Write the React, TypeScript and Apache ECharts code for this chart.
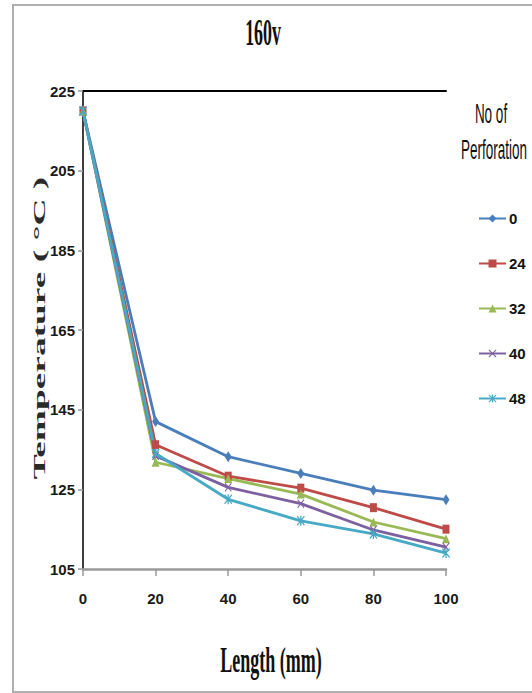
import React, { useEffect, useRef } from "react";
import * as echarts from "echarts";

const lengths = [0, 20, 40, 60, 80, 100];
const perforations = ["0", "24", "32", "40", "48"];
const temp0 = [220, 142, 133.2, 129, 124.8, 122.4];
const temp24 = [220, 136.2, 128.3, 125.3, 120.4, 115];
const temp32 = [220, 131.8, 127.7, 123.8, 116.8, 112.6];
const temp40 = [220, 133.4, 125.5, 121.4, 114.8, 110.5];
const temp48 = [220, 134, 122.5, 117.1, 113.8, 109];
const allTemps = [temp0, temp24, temp32, temp40, temp48];

const colors = ["#4A7EBB", "#BE4B48", "#98B954", "#7D60A0", "#46AAC5"];
const X_PATH =
  "path://M0,1L1,0L5,4L9,0L10,1L6,5L10,9L9,10L5,6L1,10L0,9L4,5Z";
const STAR_PATH =
  "path://M0,1L1,0L5,4L9,0L10,1L6,5L10,9L9,10L5,6L1,10L0,9L4,5Z M4.2,0L5.8,0L5.8,10L4.2,10Z";
const symbols = ["diamond", "rect", "triangle", X_PATH, STAR_PATH];
const symbolSizes = [
  [7, 11],
  [7, 9],
  [8, 9],
  [7, 9],
  [8, 10],
];

const NARROW = "'Liberation Sans Narrow', 'Liberation Sans', Arial, sans-serif";
const SERIF = "'Liberation Serif', 'Times New Roman', serif";

export default function App() {
  const ref = useRef<HTMLDivElement>(null);
  useEffect(() => {
    if (!ref.current) return;
    const chart = echarts.init(ref.current, undefined, { renderer: "svg" });
    const series = allTemps.map((vals, i) => ({
      name: perforations[i],
      type: "line",
      data: lengths.map((x, j) => [x, vals[j]]),
      symbol: symbols[i],
      symbolSize: symbolSizes[i],
      showSymbol: true,
      lineStyle: { color: colors[i], width: 2.8 },
      itemStyle: { color: colors[i] },
    }));
    chart.setOption({
      animation: false,
      backgroundColor: "#ffffff",
      grid: { left: 83, top: 91, width: 363, height: 478, containLabel: false },
      xAxis: [
        {
          type: "value",
          min: 0,
          max: 100,
          interval: 20,
          position: "bottom",
          axisLine: { show: true, lineStyle: { color: "#999999", width: 2.5 } },
          axisTick: { show: true, length: 7, lineStyle: { color: "#999999", width: 1.5 } },
          axisLabel: {
            margin: 22,
            fontFamily: NARROW,
            fontWeight: "bold",
            fontSize: 15,
            color: "#1a1a1a",
          },
          splitLine: { show: false },
        },
        {
          type: "value",
          min: 0,
          max: 100,
          position: "top",
          axisLine: { show: true, lineStyle: { color: "#000000", width: 2 } },
          axisTick: { show: false },
          axisLabel: { show: false },
          splitLine: { show: false },
        },
      ],
      yAxis: [
        {
          type: "value",
          min: 105,
          max: 225,
          interval: 20,
          position: "left",
          axisLine: { show: true, lineStyle: { color: "#999999", width: 2 } },
          axisTick: { show: true, length: 5, lineStyle: { color: "#999999", width: 1.5 } },
          axisLabel: {
            margin: 8,
            fontFamily: NARROW,
            fontWeight: "bold",
            fontSize: 15,
            color: "#1a1a1a",
          },
          splitLine: { show: false },
        },
        {
          type: "value",
          min: 105,
          max: 225,
          position: "right",
          axisLine: { show: true, lineStyle: { color: "#222222", width: 1.5 } },
          axisTick: { show: false },
          axisLabel: { show: false },
          splitLine: { show: false },
        },
      ],
      legend: {
        orient: "vertical",
        left: 473,
        top: 206,
        itemWidth: 27,
        itemHeight: 10,
        itemGap: 30,
        data: perforations,
        textStyle: {
          fontFamily: NARROW,
          fontWeight: "bold",
          fontSize: 15,
          color: "#111111",
          padding: [0, 0, 0, -2],
        },
      },
      graphic: [
        {
          type: "rect",
          shape: { x: 13, y: 5, width: 540, height: 687 },
          style: { fill: "none", stroke: "#b0b0b0", lineWidth: 2 },
          silent: true,
        },
        {
          type: "text",
          x: 263,
          y: 32,
          scaleX: 0.47,
          style: {
            text: "160v",
            font: `bold 38px ${SERIF}`,
            textAlign: "center",
            textVerticalAlign: "middle",
            fill: "#111111",
          },
        },
        {
          type: "text",
          x: 271,
          y: 660,
          scaleX: 0.5,
          style: {
            text: "Length (mm)",
            font: `bold 36px ${SERIF}`,
            textAlign: "center",
            textVerticalAlign: "middle",
            fill: "#111111",
          },
        },
        {
          type: "text",
          x: 39,
          y: 328,
          rotation: Math.PI / 2,
          scaleX: 2.2,
          style: {
            text: "Temperature ( \u00B0C )",
            font: `bold 17px ${SERIF}`,
            textAlign: "center",
            textVerticalAlign: "middle",
            fill: "#2a2a2a",
          },
        },
        {
          type: "text",
          x: 491,
          y: 114,
          scaleX: 0.5,
          style: {
            text: "No of",
            font: "27px 'Liberation Sans', Arial, sans-serif",
            textAlign: "center",
            textVerticalAlign: "middle",
            fill: "#111111",
          },
        },
        {
          type: "text",
          x: 494,
          y: 150,
          scaleX: 0.5,
          style: {
            text: "Perforation",
            font: "27px 'Liberation Sans', Arial, sans-serif",
            textAlign: "center",
            textVerticalAlign: "middle",
            fill: "#111111",
          },
        },
      ],
      series,
    });
    return () => chart.dispose();
  }, []);
  return (
    <div
      ref={ref}
      style={{ position: "fixed", left: 0, top: 0, width: 532, height: 693, background: "#fff" }}
    />
  );
}
